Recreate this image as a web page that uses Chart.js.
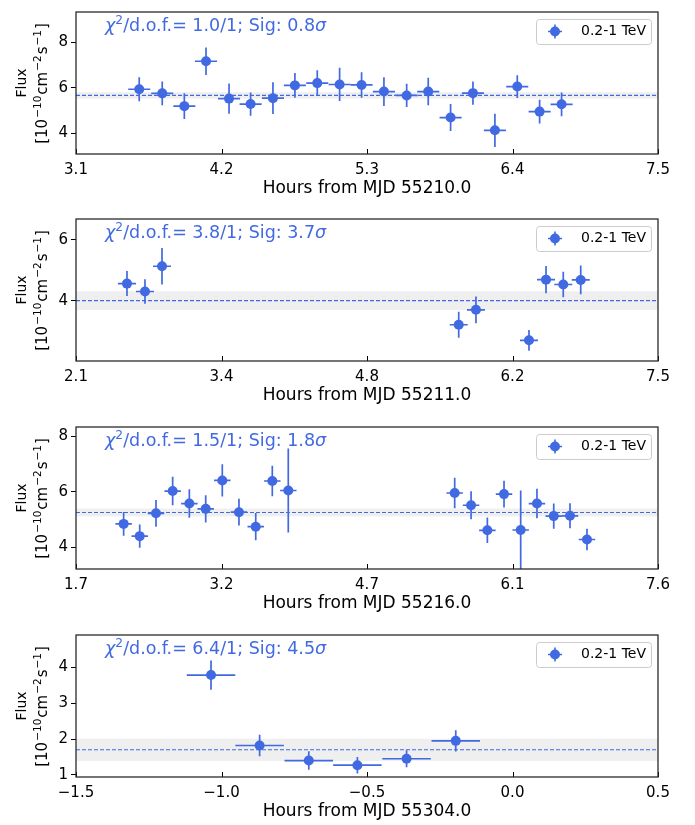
<!DOCTYPE html>
<html>
<head>
<meta charset="utf-8">
<title>Light curves 0.2-1 TeV</title>
<script src="https://cdn.jsdelivr.net/npm/chart.js@4.4.1/dist/chart.umd.min.js"></script>
<style>
  html, body { margin: 0; padding: 0; background: #fff; }
  body { width: 695px; height: 825px; position: relative; overflow: hidden; }
  canvas { position: absolute; left: 0; }
</style>
</head>
<body>
<canvas id="night55210" width="695" height="207" style="top:0px"></canvas>
<canvas id="night55211" width="695" height="207" style="top:207px"></canvas>
<canvas id="night55216" width="695" height="207" style="top:415px"></canvas>
<canvas id="night55304" width="695" height="207" style="top:623px"></canvas>
<script>
// 10-minute bins, hours after the MJD start, flux in 1e-10 cm^-2 s^-1
const HALF_BIN = 5 / 60;

const hours55210 = [3.578, 3.752, 3.919, 4.083, 4.257, 4.420, 4.589, 4.755, 4.924, 5.093,
                    5.259, 5.428, 5.600, 5.763, 5.932, 6.101, 6.267, 6.436, 6.605, 6.771];
const flux55210 = [5.94, 5.76, 5.20, 7.17, 5.53, 5.29, 5.55, 6.11, 6.21, 6.15,
                   6.13, 5.84, 5.67, 5.84, 4.70, 5.77, 4.14, 6.06, 4.96, 5.28];
const err55210 = [0.53, 0.52, 0.56, 0.60, 0.66, 0.51, 0.70, 0.54, 0.56, 0.73,
                  0.56, 0.63, 0.51, 0.60, 0.59, 0.51, 0.73, 0.50, 0.52, 0.52];

const hours55211 = [2.573, 2.740, 2.898, 5.651, 5.811, 6.303, 6.461, 6.621, 6.783];
const flux55211 = [4.56, 4.30, 5.13, 3.21, 3.70, 2.70, 4.69, 4.53, 4.68];
const err55211 = [0.41, 0.40, 0.60, 0.43, 0.44, 0.34, 0.45, 0.42, 0.47];

const hours55216 = [2.183, 2.346, 2.511, 2.680, 2.849, 3.015, 3.183, 3.352, 3.522, 3.690,
                    3.852, 5.539, 5.705, 5.870, 6.039, 6.208, 6.373, 6.543, 6.708, 6.880];
const flux55216 = [4.85, 4.41, 5.23, 6.03, 5.58, 5.39, 6.41, 5.27, 4.75, 6.39,
                   6.05, 5.96, 5.52, 4.62, 5.92, 4.63, 5.58, 5.13, 5.14, 4.29];
const err55216 = [0.43, 0.42, 0.48, 0.51, 0.51, 0.49, 0.58, 0.48, 0.49, 0.55,
                  1.51, 0.55, 0.50, 0.46, 0.48, 1.42, 0.53, 0.45, 0.45, 0.39];

const hours55304 = [-1.036, -0.869, -0.700, -0.533, -0.364, -0.195];
const flux55304 = [3.79, 1.82, 1.40, 1.27, 1.45, 1.95];
const err55304 = [0.41, 0.30, 0.26, 0.23, 0.24, 0.30];

// constant-flux fit per night
const nights = ["55210.0", "55211.0", "55216.0", "55304.0"];
const fitMean = [5.67, 4.00, 5.26, 1.70];
const fitErr = [0.14, 0.31, 0.14, 0.31];
const chi2Dof = ["1.0/1", "3.8/1", "1.5/1", "6.4/1"];
const sigma = ["0.8", "3.7", "1.8", "4.5"];

// axes
const xRanges = [[3.1, 7.5], [2.1, 7.5], [1.7, 7.6], [-1.5, 0.5]];
const xTickLabels = [
  ["3.1", "4.2", "5.3", "6.4", "7.5"],
  ["2.1", "3.4", "4.8", "6.2", "7.5"],
  ["1.7", "3.2", "4.7", "6.1", "7.6"],
  ["\u22121.5", "\u22121.0", "\u22120.5", "0.0", "0.5"]
];
const yRanges = [[3.10, 9.33], [2.02, 6.68], [3.23, 8.33], [0.94, 4.91]];
const yTicks = [[4, 6, 8], [4, 6], [4, 6, 8], [1, 2, 3, 4]];

const BLUE = "#4169e1";
const FONT = "DejaVu Sans";
const LEGEND_LABEL = "0.2-1 TeV";

// runs of text; sup marks superscripts, gap adds spacing after a run
function drawRuns(ctx, runs, x0, y0, size, align, gap = 0) {
  const widthOf = r => {
    ctx.font = (r.italic ? "italic " : "") + (r.sup ? size * 0.7 : size) + "px " + FONT;
    return ctx.measureText(r.t).width + gap;
  };
  let x = x0;
  if (align === "center") x -= runs.reduce((s, r) => s + widthOf(r), 0) / 2;
  runs.forEach(r => {
    const w = widthOf(r);
    ctx.fillText(r.t, x, y0 - (r.sup ? size * 0.42 : 0));
    x += w;
  });
}

function drawFitText(ctx, x0, y0, chi, sig) {
  ctx.fillStyle = BLUE;
  ctx.textBaseline = "alphabetic";
  ctx.textAlign = "left";
  drawRuns(ctx, [
    {t: "\u03c7", italic: true},
    {t: "2", sup: true},
    {t: "/d.o.f.= " + chi + "; Sig: " + sig},
    {t: "\u03c3", italic: true}
  ], x0, y0, 17.5, "left");
}

function drawYLabel(ctx, area) {
  ctx.save();
  ctx.translate(0, (area.top + area.bottom) / 2);
  ctx.rotate(-Math.PI / 2);
  ctx.fillStyle = "#000";
  ctx.textBaseline = "alphabetic";
  ctx.textAlign = "left";
  drawRuns(ctx, [{t: "Flux"}], 0, 26, 14, "center");
  drawRuns(ctx, [
    {t: "[10"}, {t: "\u221210", sup: true},
    {t: "cm"}, {t: "\u22122", sup: true},
    {t: "s"}, {t: "\u22121", sup: true},
    {t: "]"}
  ], 0, 47, 15, "center", 1);
  ctx.restore();
}

function drawLegend(ctx, area) {
  const bx = area.right - 122, by = area.top + 7, bw = 115, bh = 25;
  ctx.fillStyle = "rgba(255,255,255,0.8)";
  ctx.strokeStyle = "#cccccc";
  ctx.lineWidth = 1;
  ctx.beginPath();
  ctx.roundRect(bx + 0.5, by + 0.5, bw, bh, 3);
  ctx.fill();
  ctx.stroke();

  const mx = bx + 19, my = by + 12.5;
  ctx.strokeStyle = BLUE;
  ctx.lineWidth = 1.6;
  ctx.beginPath();
  ctx.moveTo(mx - 7, my); ctx.lineTo(mx + 7, my);
  ctx.moveTo(mx, my - 7); ctx.lineTo(mx, my + 7);
  ctx.stroke();
  ctx.fillStyle = BLUE;
  ctx.beginPath();
  ctx.arc(mx, my, 5, 0, Math.PI * 2);
  ctx.fill();

  ctx.fillStyle = "#000";
  ctx.font = "14px " + FONT;
  ctx.textBaseline = "middle";
  ctx.textAlign = "left";
  ctx.fillText(LEGEND_LABEL, bx + 45, my);
}

function lightCurvePlugin(p) {
  return {
    id: "lightCurve",
    beforeDatasetsDraw(chart) {
      const {ctx, chartArea: a, scales: {x, y}} = chart;
      ctx.save();
      ctx.beginPath();
      ctx.rect(a.left, a.top, a.width, a.height);
      ctx.clip();
      // 1 sigma band of the fitted constant
      const yHi = y.getPixelForValue(p.mean + p.meanErr);
      const yLo = y.getPixelForValue(p.mean - p.meanErr);
      ctx.fillStyle = "#efefef";
      ctx.fillRect(a.left, yHi, a.width, yLo - yHi);
      // time bin and flux error bars
      ctx.strokeStyle = BLUE;
      ctx.lineWidth = 1.7;
      p.hours.forEach((h, i) => {
        const px = x.getPixelForValue(h);
        const py = y.getPixelForValue(p.flux[i]);
        ctx.beginPath();
        ctx.moveTo(x.getPixelForValue(h - HALF_BIN), py);
        ctx.lineTo(x.getPixelForValue(h + HALF_BIN), py);
        ctx.moveTo(px, y.getPixelForValue(p.flux[i] - p.err[i]));
        ctx.lineTo(px, y.getPixelForValue(p.flux[i] + p.err[i]));
        ctx.stroke();
      });
      ctx.restore();
    },
    afterDraw(chart) {
      const {ctx, chartArea: a, scales: {x}} = chart;
      ctx.save();
      // inward ticks on the time axis
      ctx.strokeStyle = "#000";
      ctx.lineWidth = 1;
      x.ticks.forEach(t => {
        const px = Math.round(x.getPixelForValue(t.value)) + 0.5;
        ctx.beginPath();
        ctx.moveTo(px, a.bottom);
        ctx.lineTo(px, a.bottom - 5);
        ctx.stroke();
      });
      // axes frame
      ctx.strokeStyle = "#222";
      ctx.lineWidth = 1.25;
      ctx.strokeRect(a.left, a.top, a.width, a.height);

      drawFitText(ctx, a.left + 29, a.top + 19, p.chi, p.sig);
      drawLegend(ctx, a);
      drawYLabel(ctx, a);
      ctx.restore();
    }
  };
}

function makePanel(canvasId, p) {
  const points = p.hours.map((h, i) => ({x: h, y: p.flux[i]}));
  const meanLine = [{x: p.xRange[0], y: p.mean}, {x: p.xRange[1], y: p.mean}];

  return new Chart(document.getElementById(canvasId), {
    type: "scatter",
    data: {
      datasets: [
        {
          label: LEGEND_LABEL,
          data: points,
          pointRadius: 5,
          pointHoverRadius: 5,
          pointBackgroundColor: BLUE,
          pointBorderWidth: 0
        },
        {
          label: "fit",
          data: meanLine,
          showLine: true,
          borderColor: BLUE,
          borderWidth: 1.1,
          borderDash: [4, 2],
          pointRadius: 0
        }
      ]
    },
    options: {
      responsive: false,
      animation: false,
      layout: {padding: {top: 6, right: 37, left: 0, bottom: 0}},
      plugins: {legend: {display: false}, tooltip: {enabled: false}},
      scales: {
        x: {
          type: "linear",
          min: p.xRange[0],
          max: p.xRange[1],
          afterBuildTicks: s => { s.ticks = p.xLabels.map((_, i) =>
            ({value: p.xRange[0] + i * (p.xRange[1] - p.xRange[0]) / (p.xLabels.length - 1)})); },
          afterFit: s => { s.height = 53; },
          grid: {display: false, drawTicks: false},
          border: {display: false},
          ticks: {
            autoSkip: false,
            maxRotation: 0,
            padding: 7,
            color: "#000",
            font: {family: FONT, size: 15},
            callback: (v, i) => p.xLabels[i]
          },
          title: {
            display: true,
            text: "Hours from MJD " + p.mjd,
            color: "#000",
            font: {family: FONT, size: 17},
            padding: {top: 0, bottom: 8}
          }
        },
        y: {
          min: p.yRange[0],
          max: p.yRange[1],
          afterBuildTicks: s => { s.ticks = p.yTicks.map(v => ({value: v})); },
          afterFit: s => { s.width = 76; },
          grid: {drawOnChartArea: false, drawTicks: true, tickLength: 5, color: "#000"},
          border: {display: false},
          ticks: {
            padding: 3,
            color: "#000",
            font: {family: FONT, size: 15}
          }
        }
      }
    },
    plugins: [lightCurvePlugin(p)]
  });
}

const seriesHours = [hours55210, hours55211, hours55216, hours55304];
const seriesFlux = [flux55210, flux55211, flux55216, flux55304];
const seriesErr = [err55210, err55211, err55216, err55304];

nights.forEach((mjd, i) => {
  makePanel("night" + mjd.split(".")[0], {
    mjd: mjd,
    hours: seriesHours[i],
    flux: seriesFlux[i],
    err: seriesErr[i],
    mean: fitMean[i],
    meanErr: fitErr[i],
    chi: chi2Dof[i],
    sig: sigma[i],
    xRange: xRanges[i],
    xLabels: xTickLabels[i],
    yRange: yRanges[i],
    yTicks: yTicks[i]
  });
});
</script>
</body>
</html>
